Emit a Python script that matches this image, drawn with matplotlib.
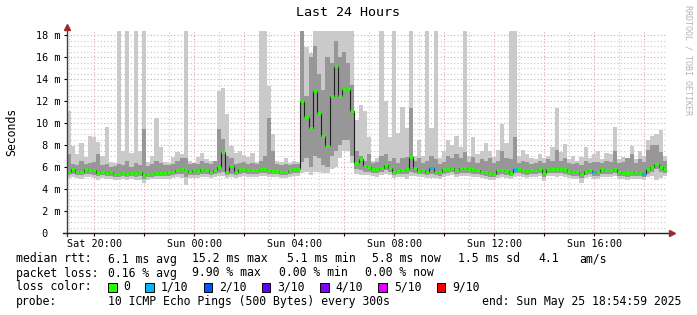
import numpy as np
import matplotlib
matplotlib.use('Agg')
import matplotlib.pyplot as plt
import matplotlib.dates as mdates
from matplotlib.ticker import FuncFormatter, MultipleLocator
from datetime import datetime, timedelta

plt.rcParams['font.family'] = 'DejaVu Sans Mono'

# smokeping round trip times (ms), one value per 10 minute step
start = datetime(2025, 5, 24, 18, 55)
step_min = 10

lo = [5.0, 5.1, 5.0, 4.9, 5.1, 5.1, 5.0, 4.8, 5.0, 4.9, 4.9, 4.8,
      4.8, 4.9, 4.8, 4.9, 4.8, 4.8, 4.6, 4.8, 4.9, 4.9, 4.9, 4.9,
      4.9, 5.0, 5.1, 5.0, 4.4, 5.0, 5.0, 5.0, 5.1, 5.1, 5.0, 5.1,
      5.2, 5.2, 5.0, 5.1, 5.0, 5.1, 5.2, 5.1, 5.1, 5.1, 5.2, 5.2,
      5.1, 5.1, 5.1, 5.0, 5.0, 5.1, 5.2, 5.2, 5.5, 5.6, 5.3, 5.6,
      5.6, 5.5, 5.5, 5.8, 6.0, 6.8, 7.5, 7.5, 6.4, 5.4, 5.3, 5.3,
      5.3, 5.2, 5.1, 5.3, 5.4, 5.3, 5.0, 5.1, 5.1, 4.9, 5.2, 5.2,
      5.1, 5.1, 5.0, 5.0, 5.0, 4.9, 5.1, 5.2, 5.3, 5.1, 5.2, 5.2,
      5.2, 5.1, 5.1, 5.0, 4.9, 4.8, 4.8, 5.0, 5.1, 5.0, 4.9, 5.1,
      5.2, 5.1, 5.0, 5.1, 5.1, 5.2, 4.7, 5.2, 5.2, 5.1, 5.2, 5.1,
      5.0, 4.9, 4.9, 4.6, 5.0, 5.1, 4.9, 4.9, 5.1, 5.1, 5.1, 5.2,
      4.9, 4.9, 4.8, 4.9, 4.9, 4.9, 4.8, 5.1, 5.2, 4.8, 5.0, 5.2]

q_lo = [5.3, 5.4, 5.3, 5.3, 5.4, 5.4, 5.3, 5.2, 5.3, 5.2, 5.2, 5.1,
        5.1, 5.2, 5.1, 5.2, 5.1, 5.2, 4.9, 5.1, 5.1, 5.2, 5.2, 5.2,
        5.2, 5.3, 5.4, 5.4, 5.1, 5.3, 5.3, 5.3, 5.4, 5.4, 5.3, 5.4,
        5.5, 5.6, 5.3, 5.4, 5.3, 5.4, 5.5, 5.4, 5.4, 5.4, 5.5, 5.5,
        5.4, 5.4, 5.4, 5.3, 5.3, 5.4, 5.5, 5.5, 6.5, 6.8, 6.0, 7.0,
        6.8, 6.2, 6.0, 7.0, 7.5, 8.0, 8.5, 8.5, 7.0, 5.8, 5.7, 5.6,
        5.6, 5.5, 5.5, 5.6, 5.7, 5.6, 5.3, 5.4, 5.4, 5.4, 5.6, 5.5,
        5.4, 5.4, 5.3, 5.4, 5.3, 5.2, 5.4, 5.5, 5.6, 5.4, 5.5, 5.5,
        5.5, 5.4, 5.4, 5.3, 5.2, 5.1, 5.1, 5.3, 5.4, 5.3, 5.2, 5.5,
        5.5, 5.4, 5.3, 5.4, 5.4, 5.5, 5.1, 5.5, 5.5, 5.5, 5.5, 5.4,
        5.3, 5.2, 5.2, 5.0, 5.3, 5.4, 5.2, 5.2, 5.4, 5.4, 5.4, 5.5,
        5.2, 5.2, 5.1, 5.2, 5.2, 5.2, 5.1, 5.4, 5.6, 5.8, 5.6, 5.5]

med = [5.6, 5.8, 5.6, 5.6, 5.8, 5.7, 5.7, 5.5, 5.6, 5.45, 5.55, 5.4,
       5.35, 5.5, 5.35, 5.45, 5.45, 5.55, 5.25, 5.35, 5.4, 5.45, 5.5, 5.5,
       5.55, 5.6, 5.7, 5.8, 5.7, 5.6, 5.7, 5.65, 5.8, 5.75, 5.6, 5.75,
       6.0, 7.4, 5.6, 6.1, 5.6, 5.8, 5.8, 5.7, 5.7, 5.7, 5.8, 5.8,
       5.7, 5.65, 5.65, 5.6, 5.55, 5.7, 5.8, 5.8, 12.0, 10.6, 9.6, 12.9,
       10.9, 8.8, 7.9, 12.5, 15.2, 12.5, 13.1, 13.1, 11.1, 6.4, 6.7, 6.1,
       6.0, 5.8, 5.8, 5.95, 6.2, 5.95, 5.6, 5.65, 5.75, 5.8, 6.9, 5.9,
       5.65, 5.75, 5.6, 5.9, 5.55, 5.55, 5.8, 5.8, 5.95, 5.7, 5.9, 5.9,
       5.85, 5.8, 5.7, 5.6, 5.55, 5.45, 5.35, 5.7, 5.7, 5.65, 5.5, 5.85,
       5.8, 5.7, 5.65, 5.7, 5.75, 5.85, 5.5, 5.85, 5.85, 5.8, 5.8, 5.8,
       5.65, 5.55, 5.55, 5.4, 5.65, 5.7, 5.55, 5.55, 5.8, 5.75, 5.75, 5.8,
       5.55, 5.5, 5.45, 5.5, 5.55, 5.5, 5.4, 5.8, 6.0, 6.3, 6.0, 5.8]

q_hi = [7.2, 6.3, 6.2, 6.6, 6.3, 6.4, 6.5, 7.2, 6.2, 6.3, 6.0, 6.1,
        6.3, 6.2, 6.6, 6.0, 6.4, 6.2, 9.5, 6.1, 6.3, 6.6, 6.4, 6.2,
        6.2, 6.3, 6.6, 6.8, 6.8, 6.3, 6.4, 6.3, 6.6, 6.4, 6.3, 6.6,
        9.5, 8.6, 7.0, 6.8, 6.3, 6.4, 6.5, 6.3, 6.4, 6.3, 6.6, 7.0,
        10.5, 7.5, 6.3, 6.2, 6.3, 6.2, 6.3, 6.3, 18.4, 12.5, 16.0, 17.0,
        14.5, 13.0, 16.0, 15.5, 17.5, 16.0, 16.5, 15.5, 13.5, 7.5, 7.0, 6.6,
        7.2, 6.4, 6.5, 7.0, 7.2, 6.6, 6.8, 6.4, 6.8, 6.9, 11.4, 6.6,
        6.8, 6.4, 6.6, 7.0, 6.7, 6.3, 6.5, 7.0, 6.8, 7.2, 6.8, 7.4,
        6.5, 6.9, 6.4, 6.7, 6.6, 6.8, 6.4, 6.6, 7.5, 6.8, 6.7, 8.7,
        6.4, 6.6, 6.5, 6.3, 6.4, 6.6, 6.4, 6.7, 6.6, 7.6, 6.6, 6.8,
        6.4, 6.3, 6.4, 6.2, 6.6, 6.4, 6.5, 6.5, 6.4, 6.6, 6.5, 7.5,
        6.4, 6.5, 6.8, 7.2, 6.4, 6.7, 6.5, 7.6, 8.0, 8.0, 7.4, 6.6]

hi = [11.1, 7.9, 7.2, 8.2, 6.9, 8.8, 8.7, 8.3, 7.0, 9.7, 6.5, 6.4,
      18.4, 7.5, 18.4, 7.3, 18.4, 7.5, 18.4, 6.5, 7.0, 10.5, 7.8, 6.5,
      6.4, 6.9, 7.4, 7.2, 18.4, 6.6, 6.3, 6.9, 7.3, 6.7, 6.6, 6.3,
      12.9, 13.2, 10.8, 7.9, 7.3, 7.5, 7.1, 6.9, 7.3, 6.5, 18.4, 18.4,
      13.4, 9.0, 6.6, 6.5, 6.8, 6.4, 6.6, 6.5, 18.4, 16.9, 16.4, 18.4,
      18.4, 18.4, 18.4, 18.4, 18.4, 18.4, 18.4, 18.4, 18.4, 10.3, 11.7, 11.1,
      8.7, 6.6, 6.8, 18.4, 12.0, 8.7, 18.4, 9.1, 11.5, 9.6, 18.4, 7.0,
      8.5, 7.0, 18.4, 9.6, 18.4, 6.8, 7.5, 8.5, 8.0, 8.8, 7.8, 18.4,
      7.0, 8.7, 7.2, 7.5, 8.2, 7.5, 6.9, 7.6, 9.9, 8.2, 18.4, 18.4,
      7.0, 7.6, 7.2, 6.8, 6.7, 7.2, 6.8, 7.0, 7.8, 11.4, 7.4, 8.1,
      6.7, 7.0, 6.6, 6.9, 7.8, 6.8, 7.2, 7.5, 6.7, 7.3, 7.2, 9.7,
      6.7, 6.9, 6.8, 7.9, 6.7, 7.5, 7.0, 8.5, 8.8, 9.0, 9.4, 7.0]

loss_idx = [87, 107, 126, 138]   # steps with 1 of 10 pings lost

loss_labels = ['0', '1/10', '2/10', '3/10', '4/10', '5/10', '9/10']
loss_colors = ['#26ff00', '#00b8ff', '#0059ff', '#5e00ff', '#7e00ff', '#dd00ff', '#ff0000']

rtt_stats = ['6.1 ms avg', '15.2 ms max', '5.1 ms min', '5.8 ms now', '1.5 ms sd', '4.1', 'am/s']
loss_stats = ['0.16 % avg', '9.90 % max', '0.00 % min', '0.00 % now']

W, H = 697, 315
def px(x, y):
    return x / W, 1 - y / H

n = len(med)
edges = mdates.date2num([start + timedelta(minutes=step_min * k) for k in range(n + 1)])
def ext(a):
    return np.append(a, a[-1])

fig = plt.figure(figsize=(W / 100, H / 100), dpi=100)
ax = fig.add_axes([67 / W, 1 - 233 / H, 600 / W, 202 / H])

######smoke
ax.fill_between(edges, ext(lo), ext(hi), step='post', color='#cacaca', lw=0)
ax.fill_between(edges, ext(q_lo), ext(q_hi), step='post', color='#979797', lw=0)
ax.step(edges, ext(med), where='post', color='#202020', lw=0.8)
loss = np.zeros(n, dtype=int)
loss[loss_idx] = 1
ax.hlines(med, edges[:-1], edges[1:], colors=[loss_colors[l] for l in loss], lw=2.0)

######axes config
ax.set_xlim(edges[0], edges[-1])
ax.set_ylim(0, 18.4)
ax.yaxis.set_major_locator(MultipleLocator(2))
ax.yaxis.set_minor_locator(MultipleLocator(0.5))
ax.yaxis.set_major_formatter(FuncFormatter(lambda v, _: f"{int(round(v)):2d} m" if v > 0 else " 0  "))
ax.xaxis.set_major_locator(mdates.HourLocator(byhour=range(0, 24, 2)))
ax.xaxis.set_minor_locator(mdates.HourLocator())
def xfmt(v, _):
    d = mdates.num2date(v)
    return d.strftime('%a %H:%M') if d.hour % 4 == 0 else ''
ax.xaxis.set_major_formatter(FuncFormatter(xfmt))

ax.set_axisbelow(True)
ax.grid(which='major', color='#e8a0a0', ls=(0, (1, 2)), lw=0.8)
ax.grid(which='minor', color='#c8c8c8', ls=(0, (1, 2)), lw=0.8)
for s in ax.spines.values():
    s.set_visible(False)
ax.tick_params(which='major', length=2.5, width=0.8, color='black', labelsize=7.3, pad=2)
ax.tick_params(which='minor', length=0)

# axis lines with arrows
ax.plot([0, 0], [-0.015, 1.02], color='#404040', lw=1, transform=ax.transAxes, clip_on=False)
ax.plot([-0.007, 1.006], [0, 0], color='#202020', lw=1, transform=ax.transAxes, clip_on=False)
ax.plot([0], [1.022], marker='^', ms=4.5, color='#a02828', transform=ax.transAxes, clip_on=False)
ax.plot([1.008], [0], marker='>', ms=4.5, color='#a02828', transform=ax.transAxes, clip_on=False)

######texts
fig.text(*px(348, 13), 'Last 24 Hours', ha='center', va='center', fontsize=9.6)
fig.text(*px(12, 132), 'Seconds', ha='center', va='center', rotation=90, fontsize=8.3)
fig.text(*px(688, 5), 'RRDTOOL / TOBI OETIKER', ha='center', va='top', rotation=270,
         fontsize=6, color='#b4b4b4')

fs = 8.3
cw = 6.97
rows = [259, 273, 287, 301]
fig.text(*px(16, rows[0]), 'median rtt:', va='center', fontsize=fs)
for s, x in zip(rtt_stats, [108, 192, 287, 372, 458, 538, 579]):
    fig.text(*px(x, rows[0]), s, va='center', fontsize=fs)
fig.text(*px(16, rows[1]), 'packet loss:', va='center', fontsize=fs)
for s, x in zip(loss_stats, [107.5, 192, 279, 365]):
    fig.text(*px(x, rows[1]), s, va='center', fontsize=fs)
fig.text(*px(16, rows[2]), 'loss color:', va='center', fontsize=fs)
x = 108
for lab, c in zip(loss_labels, loss_colors):
    fig.patches.append(plt.Rectangle(px(x, rows[2] + 4.5), 8.5 / W, 9 / H, transform=fig.transFigure,
                                     facecolor=c, edgecolor='black', lw=0.7))
    fig.text(*px(x + 15.6, rows[2]), lab, va='center', fontsize=fs)
    x = x + 15.6 + len(lab) * cw + 14.8
fig.text(*px(16, rows[3]), 'probe:', va='center', fontsize=fs)
fig.text(*px(107.5, rows[3]), '10 ICMP Echo Pings (500 Bytes) every 300s', va='center', fontsize=fs)
fig.text(*px(681, rows[3]), 'end: Sun May 25 18:54:59 2025', ha='right', va='center', fontsize=fs)

fig.savefig('out.png', dpi=100)
